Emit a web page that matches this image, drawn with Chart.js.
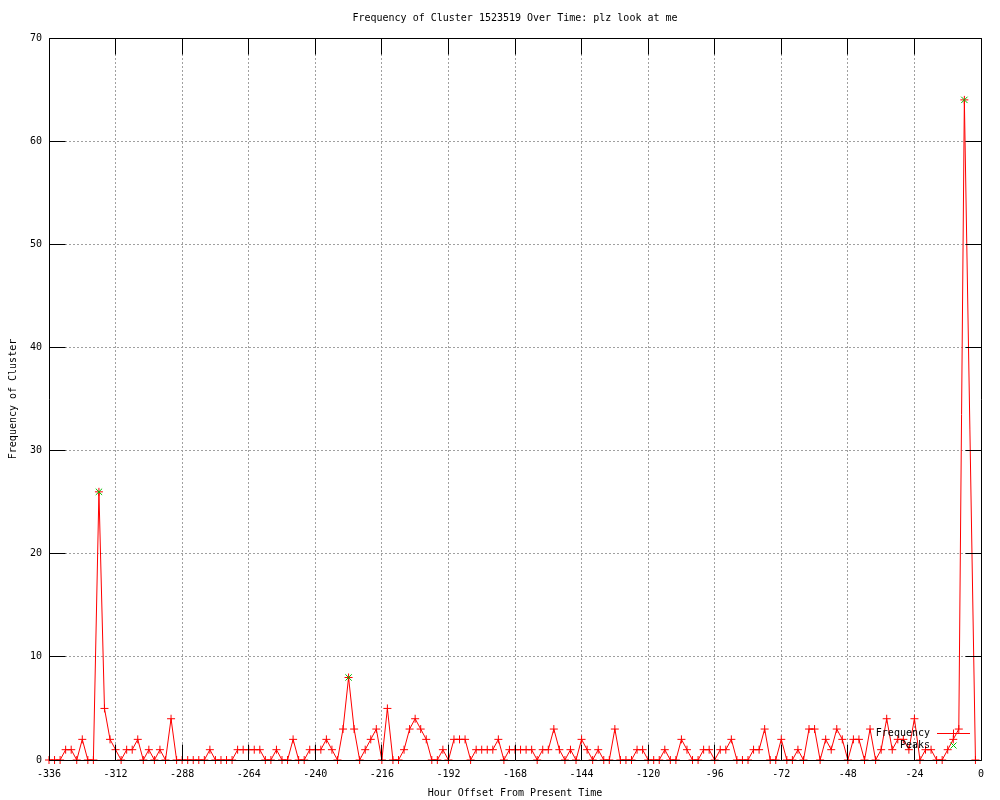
<!DOCTYPE html>
<html><head><meta charset="utf-8">
<script src="https://cdn.jsdelivr.net/npm/chart.js@4.4.1/dist/chart.umd.min.js"></script>
<style>html,body{margin:0;padding:0;background:#fff}canvas{display:block}</style>
</head><body>
<canvas id="c" width="1000" height="800"></canvas>
<script>
const chartTitle = 'Frequency of Cluster 1523519 Over Time: plz look at me';
const xAxisTitle = 'Hour Offset From Present Time';
const yAxisTitle = 'Frequency of Cluster';
const seriesNames = ['Frequency', 'Peaks'];

const hours = [
-336,-334,-332,-330,-328,-326,-324,-322,-320,-318,
-316,-314,-312,-310,-308,-306,-304,-302,-300,-298,
-296,-294,-292,-290,-288,-286,-284,-282,-280,-278,
-276,-274,-272,-270,-268,-266,-264,-262,-260,-258,
-256,-254,-252,-250,-248,-246,-244,-242,-240,-238,
-236,-234,-232,-230,-228,-226,-224,-222,-220,-218,
-216,-214,-212,-210,-208,-206,-204,-202,-200,-198,
-196,-194,-192,-190,-188,-186,-184,-182,-180,-178,
-176,-174,-172,-170,-168,-166,-164,-162,-160,-158,
-156,-154,-152,-150,-148,-146,-144,-142,-140,-138,
-136,-134,-132,-130,-128,-126,-124,-122,-120,-118,
-116,-114,-112,-110,-108,-106,-104,-102,-100,-98,
-96,-94,-92,-90,-88,-86,-84,-82,-80,-78,
-76,-74,-72,-70,-68,-66,-64,-62,-60,-58,
-56,-54,-52,-50,-48,-46,-44,-42,-40,-38,
-36,-34,-32,-30,-28,-26,-24,-22,-20,-18,
-16,-14,-12,-10,-8,-6,-2
];
const frequency = [
0,0,0,1,1,0,2,0,0,26,
5,2,1,0,1,1,2,0,1,0,
1,0,4,0,0,0,0,0,0,1,
0,0,0,0,1,1,1,1,1,0,
0,1,0,0,2,0,0,1,1,1,
2,1,0,3,8,3,0,1,2,3,
0,5,0,0,1,3,4,3,2,0,
0,1,0,2,2,2,0,1,1,1,
1,2,0,1,1,1,1,1,0,1,
1,3,1,0,1,0,2,1,0,1,
0,0,3,0,0,0,1,1,0,0,
0,1,0,0,2,1,0,0,1,1,
0,1,1,2,0,0,0,1,1,3,
0,0,2,0,0,1,0,3,3,0,
2,1,3,2,0,2,2,0,3,0,
1,4,1,2,2,1,4,0,1,1,
0,0,1,2,3,64,0
];
const peakHours = [-318, -228, -6];
const peakValues = [26, 8, 64];

const xMin = -336, xMax = 0, xStep = 24;
const yMin = 0, yMax = 70, yStep = 10;

const RED = '#ff0000', GREEN = '#00c000';
const FONT = {family: "'DejaVu Sans Mono', monospace", size: 10};
Chart.defaults.font = FONT;
Chart.defaults.color = '#000';

function align(v) { return Math.round(v - 0.5) + 0.5; }

const framePlugin = {
  id: 'gpFrame',
  afterDatasetsDraw(chart) {
    const {ctx, chartArea: a, scales} = chart;
    const L = align(a.left), R = align(a.right), T = align(a.top), B = align(a.bottom);
    const TL = 16;
    ctx.save();
    ctx.strokeStyle = '#000';
    ctx.lineWidth = 1;
    ctx.setLineDash([]);
    ctx.beginPath();
    scales.x.ticks.forEach(t => {
      const px = align(scales.x.getPixelForValue(t.value));
      ctx.moveTo(px, B); ctx.lineTo(px, B - TL);
      ctx.moveTo(px, T); ctx.lineTo(px, T + TL);
    });
    scales.y.ticks.forEach(t => {
      const py = align(scales.y.getPixelForValue(t.value));
      ctx.moveTo(L, py); ctx.lineTo(L + TL, py);
      ctx.moveTo(R, py); ctx.lineTo(R - TL, py);
    });
    ctx.rect(L, T, R - L, B - T);
    ctx.stroke();
    ctx.restore();
  }
};

const keyPlugin = {
  id: 'gpKey',
  afterDraw(chart) {
    const {ctx, chartArea: a} = chart;
    const textRight = a.right - 51;
    const x1 = a.right - 44, x2 = a.right - 11, xm = (x1 + x2) / 2;
    const y1 = Math.round(a.bottom - 27) + 0.5, y2 = Math.round(a.bottom - 15) + 0.5;
    ctx.save();
    ctx.font = "10px 'DejaVu Sans Mono', monospace";
    ctx.fillStyle = '#000';
    ctx.textAlign = 'right';
    ctx.textBaseline = 'middle';
    ctx.fillText(seriesNames[0], textRight, y1);
    ctx.fillText(seriesNames[1], textRight, y2);
    ctx.lineWidth = 1;
    ctx.strokeStyle = RED;
    ctx.beginPath();
    ctx.moveTo(x1, y1); ctx.lineTo(x2, y1);
    ctx.moveTo(xm, y1 - 4); ctx.lineTo(xm, y1 + 4);
    ctx.stroke();
    ctx.strokeStyle = GREEN;
    ctx.beginPath();
    ctx.moveTo(xm - 3, y2 - 3); ctx.lineTo(xm + 3, y2 + 3);
    ctx.moveTo(xm - 3, y2 + 3); ctx.lineTo(xm + 3, y2 - 3);
    ctx.stroke();
    ctx.restore();
  }
};

const bgPlugin = {
  id: 'bg',
  beforeDraw(chart) {
    const ctx = chart.ctx;
    ctx.save(); ctx.fillStyle = '#fff'; ctx.fillRect(0, 0, chart.width, chart.height); ctx.restore();
  }
};

new Chart(document.getElementById('c'), {
  type: 'line',
  data: {
    datasets: [
      {
        label: seriesNames[0],
        data: hours.map((h, i) => ({x: h, y: frequency[i]})),
        borderColor: RED,
        backgroundColor: RED,
        borderWidth: 1,
        tension: 0,
        fill: false,
        pointStyle: 'cross',
        pointRadius: 4,
        pointBorderColor: RED,
        pointBorderWidth: 1,
        clip: false,
        order: 1
      },
      {
        label: seriesNames[1],
        data: peakHours.map((h, i) => ({x: h, y: peakValues[i]})),
        showLine: false,
        borderColor: GREEN,
        backgroundColor: GREEN,
        pointStyle: 'crossRot',
        pointRadius: 4.5,
        pointBorderColor: GREEN,
        pointBorderWidth: 1,
        clip: false,
        order: 0
      }
    ]
  },
  options: {
    responsive: false,
    animation: false,
    devicePixelRatio: 1,
    events: [],
    layout: {padding: {left: 0, right: 19, top: 0, bottom: 0}},
    plugins: {
      legend: {display: false},
      tooltip: {enabled: false},
      title: {
        display: true,
        text: chartTitle,
        fullSize: false,
        color: '#000',
        font: {family: FONT.family, size: 10, weight: 'normal'},
        padding: {top: 12, bottom: 14}
      }
    },
    scales: {
      x: {
        type: 'linear',
        min: xMin, max: xMax,
        afterFit(s) { s.height = 40; },
        ticks: {stepSize: xStep, autoSkip: false, maxRotation: 0, padding: 8, color: '#000', font: FONT},
        grid: {color: '#a0a0a0', lineWidth: 1, drawTicks: false},
        border: {display: false, dash: [2, 2]},
        title: {display: true, text: xAxisTitle, color: '#000', font: FONT, padding: {top: 0, bottom: 1}}
      },
      y: {
        type: 'linear',
        min: yMin, max: yMax,
        afterFit(s) { s.width = 49; },
        ticks: {stepSize: yStep, padding: 7, color: '#000', font: FONT},
        grid: {color: '#a0a0a0', lineWidth: 1, drawTicks: false},
        border: {display: false, dash: [2, 2]},
        title: {display: true, text: yAxisTitle, color: '#000', font: FONT, padding: {top: 7, bottom: 0}}
      }
    }
  },
  plugins: [bgPlugin, framePlugin, keyPlugin]
});
</script>
</body></html>
